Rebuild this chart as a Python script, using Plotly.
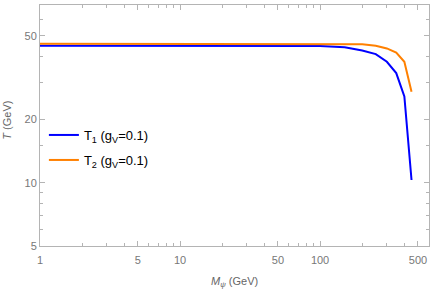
import plotly.graph_objects as go

mass = [1, 5, 10, 50, 100, 150, 200, 250, 300, 350, 400, 450]
t1 = [44.8, 44.8, 44.8, 44.8, 44.7, 44.1, 42.5, 40.9, 37.6, 33.2, 25.7, 10.3]
t2 = [45.8, 45.8, 45.8, 45.8, 45.8, 45.6, 45.5, 44.8, 43.5, 41.6, 37.6, 27.1]

x_major = [1, 5, 10, 50, 100, 500]
x_minor = [2, 3, 4, 6, 7, 8, 9, 20, 30, 40, 60, 70, 80, 90, 200, 300, 400]
y_major = [5, 10, 20, 50]
y_minor = [6, 7, 8, 9, 15, 30, 40, 60, 70]

FONT = "Liberation Sans"
GRAY = "#b4b4b4"

fig = go.Figure()
fig.add_trace(go.Scatter(x=mass, y=t1, mode="lines",
                         line=dict(color="rgb(0,0,255)", width=2),
                         name="T<sub>1</sub> (g<sub>V</sub>=0.1)", legend="legend"))
fig.add_trace(go.Scatter(x=mass, y=t2, mode="lines",
                         line=dict(color="rgb(255,128,0)", width=2),
                         name="T<sub>2</sub> (g<sub>V</sub>=0.1)", legend="legend2"))

axis_common = dict(
    showgrid=False, zeroline=False, showline=True, linecolor=GRAY,
    linewidth=1, mirror="allticks", ticks="inside", ticklen=5,
    tickcolor=GRAY, automargin=False,
    tickfont=dict(family=FONT, size=11, color="#777777"),
)

fig.update_xaxes(type="log", range=[0, 2.778], tickmode="array",
                 tickvals=x_major, ticktext=[str(v) for v in x_major],
                 ticklabelstandoff=4,
                 minor=dict(tickmode="array", tickvals=x_minor, ticks="inside",
                            ticklen=3, tickcolor=GRAY),
                 **axis_common)
fig.update_yaxes(type="log", range=[0.699, 1.845], tickmode="array",
                 tickvals=y_major, ticktext=[str(v) for v in y_major],
                 minor=dict(tickmode="array", tickvals=y_minor, ticks="inside",
                            ticklen=3, tickcolor=GRAY),
                 **axis_common)

leg_common = dict(xanchor="left", yanchor="middle", bgcolor="rgba(0,0,0,0)",
                  font=dict(family=FONT, size=13, color="black"))

fig.update_layout(
    width=436, height=290,
    margin=dict(l=40, r=7, t=5, b=44),
    paper_bgcolor="white", plot_bgcolor="white",
    showlegend=True,
    legend=dict(x=0.01, y=(246 - 135) / 241, **leg_common),
    legend2=dict(x=0.01, y=(246 - 160) / 241, **leg_common),
    annotations=[
        dict(text="<i>M</i><sub><i>ψ</i></sub> (GeV)", xref="paper", yref="paper",
             x=0.5, y=0, yanchor="middle", yshift=-36, showarrow=False,
             font=dict(family=FONT, size=11, color="#666666")),
        dict(text="<i>T</i> (GeV)", xref="paper", yref="paper",
             x=0, y=0.52, xanchor="center", xshift=-33, textangle=-90, showarrow=False,
             font=dict(family=FONT, size=11, color="#666666")),
    ],
)

fig.write_html("out.html", config={"displayModeBar": False},
               post_script="document.body.style.margin='0';")
